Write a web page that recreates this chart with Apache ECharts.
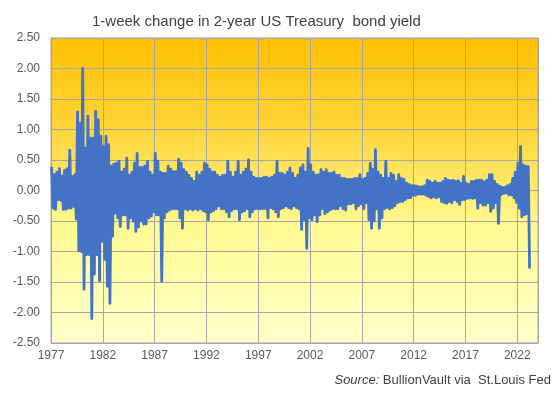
<!DOCTYPE html>
<html>
<head>
<meta charset="utf-8">
<script src="https://cdn.jsdelivr.net/npm/echarts@6/dist/echarts.min.js"></script>
<style>html,body{margin:0;padding:0;background:#fff;}#c{width:554px;height:393px;}</style>
</head>
<body>
<div id="c"></div>
<script>
// Quarterly high / low of the 1-week change (percentage points)
const startYear = 1977;
const quarterHighs = [
  0.39,0.26,0.30,0.36, 0.24,0.33,0.36,0.66, 0.23,0.26,1.29,1.10, 2.00,0.70,1.22,0.86,
  0.86,1.30,1.16,0.89, 0.72,0.89,0.75,0.40, 0.43,0.45,0.48,0.30, 0.35,0.53,0.25,0.30,
  0.45,0.61,0.38,0.38, 0.40,0.48,0.30,0.25, 0.61,0.48,0.30,0.28, 0.28,0.40,0.35,0.31,
  0.31,0.51,0.45,0.34, 0.30,0.25,0.20,0.15, 0.30,0.25,0.30,0.45, 0.42,0.35,0.30,0.30,
  0.25,0.22,0.25,0.25, 0.48,0.30,0.22,0.30, 0.48,0.25,0.30,0.35, 0.50,0.30,0.22,0.20,
  0.20,0.20,0.22,0.22, 0.20,0.22,0.25,0.48, 0.28,0.28,0.25,0.30, 0.37,0.28,0.20,0.25,
  0.37,0.42,0.30,0.69, 0.42,0.30,0.25,0.26, 0.34,0.30,0.34,0.28, 0.28,0.30,0.25,0.25,
  0.20,0.20,0.18,0.18, 0.18,0.20,0.20,0.26, 0.18,0.20,0.28,0.45, 0.35,0.67,0.30,0.25,
  0.20,0.48,0.20,0.28, 0.25,0.15,0.26,0.20, 0.18,0.12,0.10,0.08, 0.08,0.07,0.06,0.06,
  0.08,0.17,0.15,0.12, 0.15,0.12,0.12,0.15, 0.20,0.17,0.16,0.17, 0.15,0.16,0.12,0.23,
  0.12,0.10,0.15,0.15, 0.17,0.17,0.17,0.14, 0.17,0.26,0.26,0.15, 0.10,0.07,0.05,0.05,
  0.08,0.10,0.20,0.30, 0.45,0.72,0.42,0.40, 0.39
];
const quarterLows = [
  -0.29,-0.31,-0.15,-0.16, -0.31,-0.31,-0.29,-0.29, -0.26,-0.47,-0.99,-1.00, -1.62,-1.05,-1.05,-2.10,
  -1.37,-1.05,-1.48,-0.83, -1.13,-1.57,-1.85,-0.75, -0.37,-0.45,-0.59,-0.40, -0.40,-0.62,-0.45,-0.50,
  -0.67,-0.60,-0.50,-0.55, -0.55,-0.45,-0.42,-0.35, -0.40,-0.40,-1.49,-0.45, -0.35,-0.32,-0.30,-0.30,
  -0.30,-0.45,-0.62,-0.30, -0.32,-0.30,-0.32,-0.30, -0.32,-0.30,-0.33,-0.35, -0.48,-0.35,-0.33,-0.30,
  -0.25,-0.30,-0.30,-0.35, -0.43,-0.33,-0.30,-0.30, -0.48,-0.35,-0.33,-0.30, -0.43,-0.35,-0.30,-0.30,
  -0.30,-0.30,-0.30,-0.45, -0.28,-0.30,-0.35,-0.43, -0.30,-0.28,-0.25,-0.28, -0.30,-0.25,-0.28,-0.30,
  -0.64,-0.48,-0.95,-0.45, -0.48,-0.40,-0.51,-0.40, -0.30,-0.38,-0.35,-0.32, -0.30,-0.30,-0.30,-0.25,
  -0.30,-0.32,-0.22,-0.22, -0.20,-0.30,-0.25,-0.22, -0.30,-0.20,-0.48,-0.62, -0.50,-0.30,-0.62,-0.45,
  -0.30,-0.28,-0.30,-0.28, -0.25,-0.20,-0.18,-0.18, -0.15,-0.12,-0.12,-0.08, -0.08,-0.06,-0.06,-0.06,
  -0.08,-0.10,-0.12,-0.10, -0.12,-0.10,-0.18,-0.20, -0.21,-0.18,-0.20,-0.15, -0.18,-0.23,-0.15,-0.15,
  -0.13,-0.12,-0.13,-0.12, -0.29,-0.20,-0.24,-0.24, -0.20,-0.34,-0.29,-0.20, -0.54,-0.07,-0.05,-0.04,
  -0.07,-0.07,-0.12,-0.20, -0.29,-0.43,-0.40,-0.38, -1.28
];
const yTicks = [-2.5, 2.5, 0.5];      // min, max, step
const xTickYears = [1977, 2024, 5];   // first label year, axis end, step
const titleText = '1-week change in 2-year US Treasury  bond yield';

const seriesData = [];
for (let i = 0; i < quarterHighs.length; i++) {
  const t = i / 4;                       // years since 1977, quarter start
  seriesData.push([t + 1 / 16, quarterHighs[i]]);
  seriesData.push([t + 3 / 16, quarterLows[i]]);
}

const font = 'Liberation Sans, Arial, sans-serif';
const chart = echarts.init(document.getElementById('c'), null, {renderer: 'canvas'});
chart.setOption({
  animation: false,
  backgroundColor: '#ffffff',
  title: {
    text: titleText, left: 87, top: 9,
    textStyle: {fontFamily: font, fontSize: 15, fontWeight: 'normal', color: '#404040'}
  },
  grid: {
    left: 51, right: 16, top: 38, bottom: 50,
    show: true, borderColor: '#A6A6A6', borderWidth: 1,
    backgroundColor: new echarts.graphic.LinearGradient(0, 0, 0, 1, [
      {offset: 0, color: '#FFC000'},
      {offset: 0.3, color: '#FFD53A'},
      {offset: 0.5, color: '#FFEC70'},
      {offset: 0.62, color: '#FFFA92'},
      {offset: 1, color: '#FFFFCC'}
    ])
  },
  xAxis: {
    type: 'value', min: 0, max: xTickYears[1] - xTickYears[0], interval: xTickYears[2],
    axisLine: {show: false}, axisTick: {show: false},
    splitLine: {show: true, lineStyle: {color: '#A6A6A6', width: 1}},
    axisLabel: {
      margin: 7, fontFamily: font, fontSize: 12, color: '#595959',
      formatter: v => (v % xTickYears[2] === 0 ? String(xTickYears[0] + v) : '')
    }
  },
  yAxis: {
    type: 'value', min: yTicks[0], max: yTicks[1], interval: yTicks[2],
    axisLine: {show: false}, axisTick: {show: false},
    splitLine: {show: true, lineStyle: {color: '#A6A6A6', width: 1}},
    axisLabel: {
      margin: 11, fontFamily: font, fontSize: 12, color: '#595959',
      formatter: v => v.toFixed(2)
    }
  },
  series: [{
    type: 'line', data: seriesData, symbol: 'none', showSymbol: false,
    lineStyle: {color: '#4472C4', width: 2.8, join: 'round'}, sampling: null, clip: true
  }],
  graphic: [{
    type: 'text', right: 3, top: 374,
    style: {
      text: '{i|Source:} BullionVault via  St.Louis Fed',
      font: '13px ' + font, fill: '#404040',
      rich: {i: {fontStyle: 'italic', fontFamily: font, fontSize: 13, fill: '#404040', color: '#404040'}}
    }
  }]
});
</script>
</body>
</html>
